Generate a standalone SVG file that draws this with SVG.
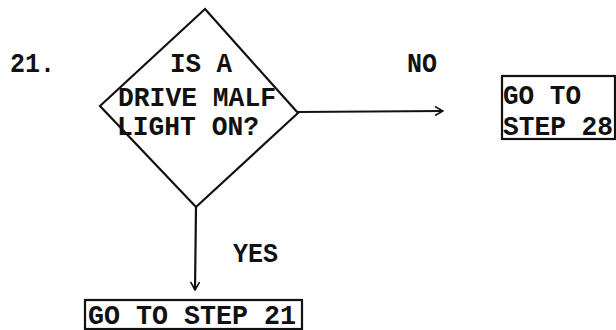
<svg xmlns="http://www.w3.org/2000/svg" width="616" height="330" viewBox="0 0 616 330">
<style>
.t{font-family:"Liberation Mono","DejaVu Sans Mono",monospace;font-size:28.5px;font-weight:bold;fill:#111}
.s{fill:none;stroke:#111;stroke-width:2.2;stroke-linejoin:miter}
</style>
<defs>
<marker id="v" viewBox="0 0 10 10" refX="9" refY="5" markerWidth="10" markerHeight="10" markerUnits="userSpaceOnUse" orient="auto">
<path d="M1,0.5 L9,5 L1,9.5" fill="none" stroke="#111" stroke-width="1.6"/>
</marker>
</defs>
<rect width="616" height="330" fill="#fff"/>
<text class="t" x="10" y="72" textLength="45" lengthAdjust="spacingAndGlyphs">21.</text>
<g id="decision">
<polygon class="s" points="205,9 298,113 196,207 100,106"/>
<text class="t" x="170" y="72" textLength="62" lengthAdjust="spacingAndGlyphs">IS A</text>
<text class="t" x="118" y="106" textLength="158" lengthAdjust="spacingAndGlyphs">DRIVE MALF</text>
<text class="t" x="117" y="135" textLength="142" lengthAdjust="spacingAndGlyphs">LIGHT ON?</text>
</g>
<g id="step28">
<rect class="s" x="502" y="76" width="113" height="63"/>
<text class="t" x="503" y="104" textLength="78" lengthAdjust="spacingAndGlyphs">GO TO</text>
<text class="t" x="503" y="135" textLength="110" lengthAdjust="spacingAndGlyphs">STEP 28</text>
</g>
<g id="step21">
<rect class="s" x="85" y="300" width="217" height="29"/>
<text class="t" x="88" y="324" textLength="208" lengthAdjust="spacingAndGlyphs">GO TO STEP 21</text>
</g>
<g id="connectors">
<line class="s" x1="298" y1="112" x2="443" y2="111" marker-end="url(#v)"/>
<text class="t" x="407" y="72" textLength="30" lengthAdjust="spacingAndGlyphs">NO</text>
<line class="s" x1="196" y1="207" x2="195" y2="290" marker-end="url(#v)"/>
<text class="t" x="233" y="262" textLength="45" lengthAdjust="spacingAndGlyphs">YES</text>
</g>
</svg>
